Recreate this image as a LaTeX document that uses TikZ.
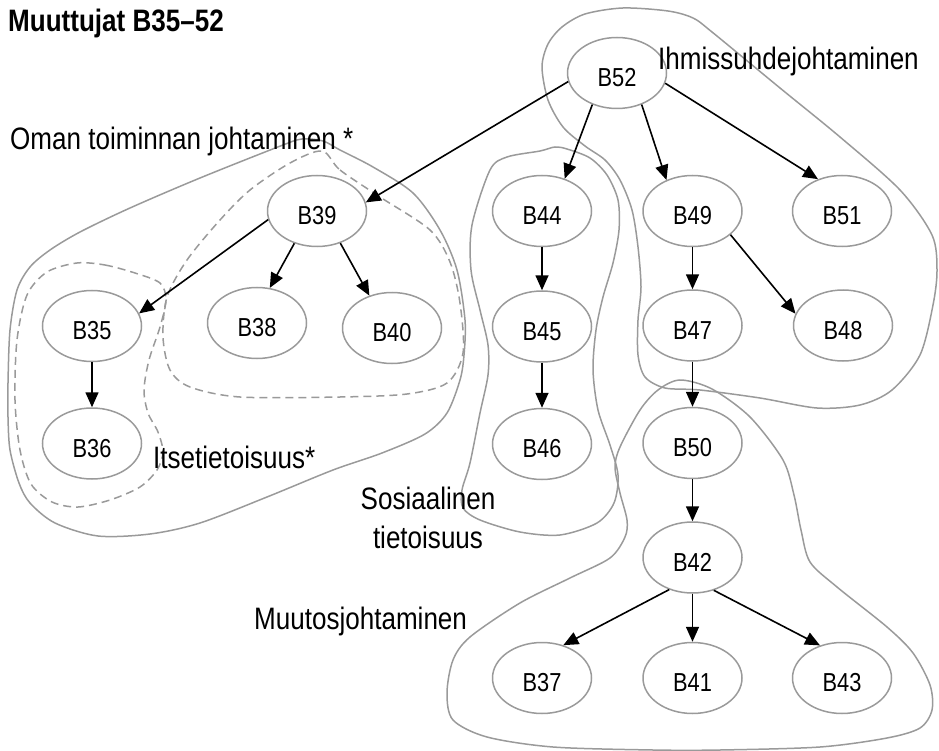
\documentclass[tikz,border=0pt]{standalone}
\usepackage{fontspec}
\setmainfont{Liberation Sans}[FakeStretch=0.84]
\usetikzlibrary{positioning,shapes.geometric,arrows.meta}
\definecolor{outl}{HTML}{9A9A9A}
\newcommand\varfont{\fontsize{26}{30}\selectfont}
\newcommand\grpfont{\fontsize{31}{39}\selectfont}
\tikzset{
  var/.style={ellipse, draw=outl, line width=1.5pt, fill=white,
    minimum width=99pt, minimum height=71pt, inner sep=0pt,
    text height=27pt, text depth=0pt, font=\varfont},
  dep/.style={line width=1.6pt, -{Triangle[length=15pt,width=13pt]}},
  grp/.style={draw=outl, line width=1.5pt},
  grpdash/.style={grp, dash pattern=on 8pt off 5pt},
  grplabel/.style={font=\grpfont, inner sep=0pt, anchor=base west},
}
\begin{document}
\begin{tikzpicture}[x=1pt, y=-1pt]
  \useasboundingbox (0,0) rectangle (939,751);

  \draw[grp] plot[smooth cycle, tension=0.5] coordinates {
    (130,208) (200,178) (283,145) (302,139) (323,141) (340,150) (373,167)
    (413,193) (440,230) (457,270) (465,320) (464,355) (460,380) (447,413)
    (425,434) (382,453) (333,470) (267,497) (200,523) (150,534) (98,536)
    (55,523) (30,503) (19,483) (10,450) (8,417) (8,383) (10,330) (17,290)
    (30,267) (50,250) (80,232)};
  \draw[grpdash] plot[smooth cycle, tension=0.5] coordinates {
    (322,151) (340,170) (380,197) (430,230) (450,262) (460,303) (463,353)
    (447,383) (407,394) (340,397) (240,397) (190,387) (170,370) (163,337)
    (167,297) (187,260) (220,220) (250,190) (290,163)};
  \draw[grpdash] plot[smooth cycle, tension=0.5] coordinates {
    (77,263) (105,265) (135,273) (160,283) (166,300) (160,327) (149,360)
    (144,390) (148,413) (158,432) (163,452) (157,470) (140,487) (110,500)
    (78,507) (52,502) (31,484) (20,450) (15,400) (17,340) (27,295) (47,272)};
  \draw[grp] plot[smooth cycle, tension=0.5] coordinates {
    (490,170) (507,157) (540,151) (555,147) (567,149) (590,158) (607,175)
    (618,200) (619,230) (613,263) (603,297) (596,330) (593,370) (598,410)
    (610,445) (618,475) (614,503) (597,523) (560,535) (520,532) (480,520)
    (463,508) (462,490) (470,463) (480,413) (488,375) (488,345) (480,310)
    (471,270) (472,225)};
  \draw[grp] plot[smooth cycle, tension=0.5] coordinates {
    (542,67) (548,44) (562,27) (585,14) (623,8) (668,11) (693,18) (712,32)
    (780,88) (840,137) (900,190) (932,235) (937,270) (933,305) (920,355)
    (892,390) (860,405) (817,408) (760,398) (700,390) (665,388) (645,377)
    (638,355) (638,320) (641,287) (638,247) (632,210) (620,180) (605,160)
    (585,146) (563,127) (548,100)};
  \draw[grp] plot[smooth cycle, tension=0.5] coordinates {
    (680,380) (712,389) (750,417) (783,460) (794,495) (801,530) (810,562)
    (837,587) (887,627) (913,653) (930,685) (932,710) (920,728) (887,738)
    (820,747) (720,750) (653,750) (553,747) (487,737) (453,720) (447,693)
    (453,660) (470,637) (520,603) (570,578) (610,558) (625,537) (627,520)
    (620,493) (615,467) (620,447) (640,410) (658,390)};

  \node[var] (B52) at (617,73) {B52};
  \node[var] (B39) at (317,211) {B39};
  \node[var] (B44) at (542,211) {B44};
  \node[var, right=50pt of B44] (B49) {B49};
  \node[var, right=49pt of B49] (B51) {B51};
  \node[var] (B35) at (92,326) {B35};
  \node[var] (B38) at (257,323) {B38};
  \node[var] (B40) at (392,328) {B40};
  \node[var, below=45pt of B35] (B36) {B36};
  \node[var, below=43pt of B44] (B45) {B45};
  \node[var, below=45pt of B45] (B46) {B46};
  \node[var, below=42pt of B49] (B47) {B47};
  \node[var, right=50pt of B47] (B48) {B48};
  \node[var, below=45pt of B47] (B50) {B50};
  \node[var, below=42pt of B50] (B42) {B42};
  \node[var, below=48pt of B42] (B41) {B41};
  \node[var, left=50pt of B41] (B37) {B37};
  \node[var, right=49pt of B41] (B43) {B43};

  \draw[dep] (B52.190) -- (B39.10);
  \draw[dep] (B52.232) -- (B44.55);
  \draw[dep] (B52.308) -- (B49.130);
  \draw[dep] (B52.348) -- (B51.127);
  \draw[dep] (B39.190) -- (B35.15);
  \draw[dep] (B39.235) -- (B38.70);
  \draw[dep] (B39.306) -- (B40.125);
  \draw[dep] (B35) -- (B36);
  \draw[dep] (B44) -- (B45);
  \draw[dep] (B45) -- (B46);
  \draw[dep] (B49) -- (B47);
  \draw[dep] (B49.328) -- (B48.166);
  \draw[dep] (B47) -- (B50);
  \draw[dep] (B50) -- (B42);
  \draw[dep] (B42.234) -- (B37.57);
  \draw[dep] (B42) -- (B41);
  \draw[dep] (B42.303) -- (B43.124);

  \node[grplabel, font=\grpfont\bfseries] (title) at (8,32) {Muuttujat B35–52};
  \node[grplabel] (oman) at (10,150) {Oman toiminnan johtaminen *};
  \node[grplabel] (ihm) at (658,70) {Ihmissuhdejohtaminen};
  \node[grplabel] (itse) at (153,468) {Itsetietoisuus*};
  \node[grplabel, anchor=north, align=center] (sos) at (428,487) {Sosiaalinen\\tietoisuus};
  \node[grplabel] (muu) at (254,629) {Muutosjohtaminen};
\end{tikzpicture}
\end{document}
